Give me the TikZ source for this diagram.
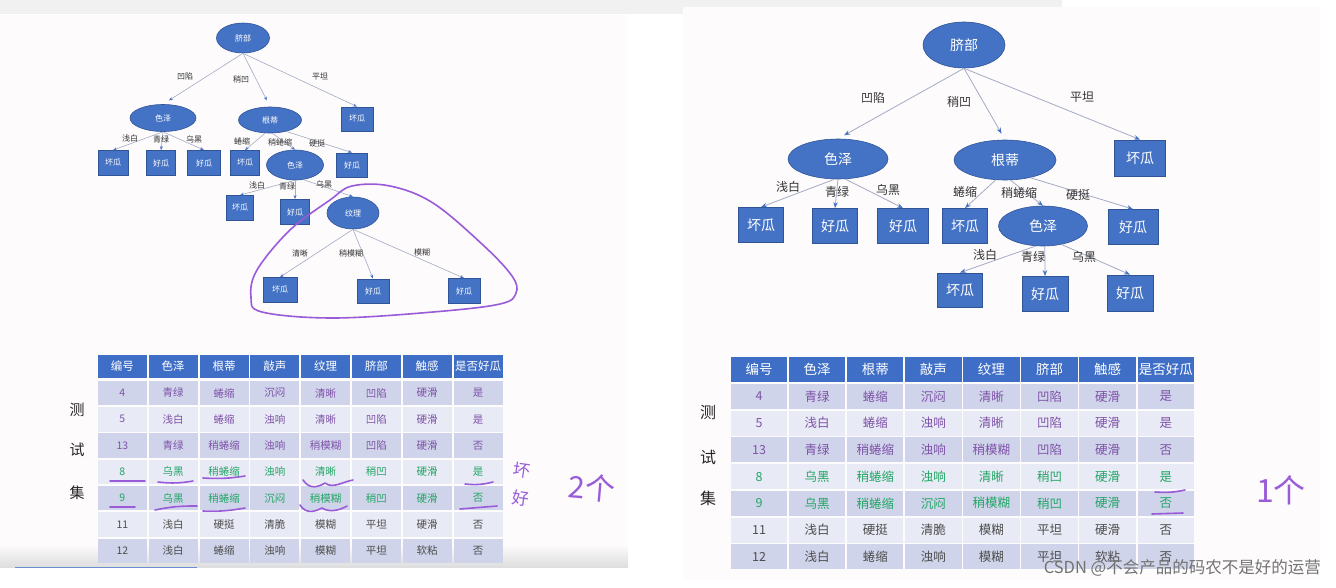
\documentclass[tikz,border=0pt]{standalone}
\usepackage{fontspec}
\setmainfont{Noto Sans CJK SC}
\usetikzlibrary{shapes.geometric,arrows.meta}
\definecolor{nodeblue}{HTML}{4472C4}
\definecolor{nodeborder}{HTML}{2F5597}
\definecolor{edgegray}{HTML}{A3ABC2}
\definecolor{hdrblue}{HTML}{3F6EC6}
\definecolor{rowdark}{HTML}{CFD4EA}
\definecolor{rowlight}{HTML}{E8EAF5}
\definecolor{tpurple}{HTML}{7E52A8}
\definecolor{tgreen}{HTML}{22A565}
\definecolor{tgray}{HTML}{4D4D4D}
\definecolor{pen}{HTML}{9A5BD8}
\definecolor{panel}{HTML}{FDFBFC}
\definecolor{strip}{HTML}{F1F1F1}
\tikzset{
  ell/.style={ellipse, fill=nodeblue, draw=nodeborder, line width=0.6pt, text=white, inner sep=0pt},
  leaf/.style={rectangle, fill=nodeblue, draw=nodeborder, line width=0.8pt, text=white, inner sep=0pt},
  sm/.style={font=\fontsize{8}{9}\selectfont},
  lg/.style={font=\fontsize{14}{15}\selectfont},
  edg/.style={draw=edgegray, line width=0.6pt, -{Stealth[length=4pt,width=3pt,color=nodeblue]}},
  redg/.style={draw=edgegray, line width=0.8pt, -{Stealth[length=6pt,width=4.5pt,color=nodeblue]}},
  elab/.style={text=black!80, inner sep=0pt},
  hdr/.style={rectangle, fill=hdrblue, text=white, inner sep=0pt},
  cell/.style={rectangle, inner sep=0pt},
  side/.style={text=black!85, inner sep=0pt},
  hand/.style={draw=pen, line width=1.6pt, line cap=round, line join=round},
  handtxt/.style={text=pen, inner sep=0pt}
}
\begin{document}
\begin{tikzpicture}[x=1pt,y=-1pt]
\useasboundingbox (0,0) rectangle (1336,587);
% backgrounds
\fill[white] (0,0) rectangle (1336,587);
\fill[strip] (0,0) rectangle (1062,14);
\fill[panel] (0,15) rectangle (628,567);
\shade[top color=panel, bottom color=black!13] (0,545) rectangle (628,567);
\draw[nodeblue!80, line width=1pt] (15,567.5) -- (197,567.5);
\fill[panel] (683,7) rectangle (1320,580);

% ================= LEFT TREE =================
\begin{scope}[sm]
\node[ell, minimum width=53, minimum height=30] (lroot) at (243,38) {脐部};
\node[ell, minimum width=66, minimum height=27] (lc1) at (163,118) {色泽};
\node[ell, minimum width=63, minimum height=26] (lc2) at (270,120) {根蒂};
\node[leaf, minimum width=32, minimum height=24] (lc3) at (357,119) {坏瓜};
\node[leaf, minimum width=30, minimum height=25] (ll1) at (113,163) {坏瓜};
\node[leaf, minimum width=29, minimum height=25] (ll2) at (161,163) {好瓜};
\node[leaf, minimum width=33, minimum height=25] (ll3) at (204,163) {好瓜};
\node[leaf, minimum width=29, minimum height=25] (ll4) at (245,163) {坏瓜};
\node[ell, minimum width=57, minimum height=30] (lc4) at (295,165) {色泽};
\node[leaf, minimum width=31, minimum height=24] (ll5) at (352,165) {好瓜};
\node[leaf, minimum width=27, minimum height=25] (ll6) at (240,208) {坏瓜};
\node[leaf, minimum width=29, minimum height=25] (ll7) at (295,212) {好瓜};
\node[ell, minimum width=52, minimum height=32] (lc5) at (353,213) {纹理};
\node[leaf, minimum width=34, minimum height=25] (ll8) at (280,290) {坏瓜};
\node[leaf, minimum width=32, minimum height=24] (ll9) at (373,291) {好瓜};
\node[leaf, minimum width=32, minimum height=25] (ll10) at (464,291) {好瓜};

\draw[edg, shorten >=7pt] (lroot.south) -- (lc1.north);
\draw[edg, shorten >=7pt] (lroot.south) -- (lc2.north);
\draw[edg] (lroot.south) -- (lc3.north);
\draw[edg] (lc1.south) -- (ll1.north);
\draw[edg] (lc1.south) -- (ll2.north);
\draw[edg] (lc1.south) -- (ll3.north);
\draw[edg] (lc2.-110) -- (ll4.north);
\draw[edg] (lc2.-80) -- (lc4.north);
\draw[edg] (lc2.-35) -- (ll5.north);
\draw[edg] (lc4.south) -- (ll6.north);
\draw[edg] (lc4.south) -- (ll7.north);
\draw[edg] (lc4.-60) -- (lc5.north);
\draw[edg] (lc5.south) -- (ll8.north);
\draw[edg] (lc5.south) -- (ll9.north);
\draw[edg] (lc5.south) -- (ll10.north);

\node[elab] (la1) at (185,76) {凹陷};
\node[elab] (la2) at (241,79) {稍凹};
\node[elab] (la3) at (320,76) {平坦};
\node[elab] (la4) at (130,138) {浅白};
\node[elab] (la5) at (161,139) {青绿};
\node[elab] (la6) at (194,139) {乌黑};
\node[elab] (la7) at (242,141) {蜷缩};
\node[elab] (la8) at (280,142) {稍蜷缩};
\node[elab] (la9) at (317,143) {硬挺};
\node[elab] (la10) at (257,185) {浅白};
\node[elab] (la11) at (287,186) {青绿};
\node[elab] (la12) at (324,184) {乌黑};
\node[elab] (la13) at (300,253) {清晰};
\node[elab] (la14) at (351,253) {稍模糊};
\node[elab] (la15) at (422,252) {模糊};
\end{scope}
% purple loop
\draw[hand] plot[smooth cycle, tension=0.6] coordinates {(352,186) (390,186) (433,203) (483,245) (512,276) (516,293) (500,304) (433,312) (333,318) (262,312) (251,297) (257,270) (290,230) (330,200)};

% ================= RIGHT TREE =================
\begin{scope}[lg]
\node[ell, minimum width=82, minimum height=46] (rroot) at (964,45) {脐部};
\node[ell, minimum width=100, minimum height=40] (rc1) at (838,159) {色泽};
\node[ell, minimum width=102, minimum height=40] (rc2) at (1005,160) {根蒂};
\node[leaf, minimum width=51, minimum height=36] (rl0) at (1140,158) {坏瓜};
\node[leaf, minimum width=45, minimum height=35] (rl1) at (761,225) {坏瓜};
\node[leaf, minimum width=45, minimum height=35] (rl2) at (835,226) {好瓜};
\node[leaf, minimum width=51, minimum height=35] (rl3) at (903,226) {好瓜};
\node[leaf, minimum width=45, minimum height=35] (rl4) at (965,226) {坏瓜};
\node[ell, minimum width=89, minimum height=40] (rc3) at (1043,226) {色泽};
\node[leaf, minimum width=50, minimum height=35] (rl5) at (1133,227) {好瓜};
\node[leaf, minimum width=45, minimum height=34] (rl6) at (960,290) {坏瓜};
\node[leaf, minimum width=46, minimum height=35] (rl7) at (1045,294) {好瓜};
\node[leaf, minimum width=46, minimum height=36] (rl8) at (1130,293) {好瓜};
\end{scope}
\draw[redg, shorten >=7pt] (rroot.south) -- (rc1.north);
\draw[redg, shorten >=7pt] (rroot.south) -- (rc2.north);
\draw[redg] (rroot.south) -- (rl0.north);
\draw[redg] (rc1.-100) -- (rl1.north);
\draw[redg] (rc1.-90) -- (rl2.north);
\draw[redg] (rc1.-70) -- (rl3.north);
\draw[redg] (rc2.-115) -- (rl4.north);
\draw[redg] (rc2.-75) -- (rc3.north);
\draw[redg] (rc2.-35) -- (rl5.north);
\draw[redg] (rc3.-110) -- (rl6.north);
\draw[redg] (rc3.-85) -- (rl7.north);
\draw[redg] (rc3.-45) -- (rl8.north);
\begin{scope}[font=\fontsize{12}{13}\selectfont]
\node[elab] (ra1) at (873,98) {凹陷};
\node[elab] (ra2) at (959,102) {稍凹};
\node[elab] (ra3) at (1082,97) {平坦};
\node[elab] (ra4) at (788,187) {浅白};
\node[elab] (ra5) at (837,192) {青绿};
\node[elab] (ra6) at (888,190) {乌黑};
\node[elab] (ra7) at (965,192) {蜷缩};
\node[elab] (ra8) at (1019,193) {稍蜷缩};
\node[elab] (ra9) at (1078,195) {硬挺};
\node[elab] (ra10) at (985,255) {浅白};
\node[elab] (ra11) at (1033,257) {青绿};
\node[elab] (ra12) at (1084,257) {乌黑};
\end{scope}

% ================= LEFT TABLE =================
\foreach \t [count=\c] in {编号,色泽,根蒂,敲声,纹理,脐部,触感,是否好瓜}{
  \pgfmathsetmacro\cx{97+50.8*(\c-0.5)}
  \node[hdr, font=\fontsize{11.5}{12}\selectfont, minimum width=49, minimum height=23] (LH\c) at (\cx,366.5) {\t};
}
\begin{scope}[font=\fontsize{10.5}{11}\selectfont]
\foreach \row/\tc/\fc [count=\r] in {
  {4,青绿,蜷缩,沉闷,清晰,凹陷,硬滑,是}/tpurple/rowdark,
  {5,浅白,蜷缩,浊响,清晰,凹陷,硬滑,是}/tpurple/rowlight,
  {13,青绿,稍蜷缩,浊响,稍模糊,凹陷,硬滑,否}/tpurple/rowdark,
  {8,乌黑,稍蜷缩,浊响,清晰,稍凹,硬滑,是}/tgreen/rowlight,
  {9,乌黑,稍蜷缩,沉闷,稍模糊,稍凹,硬滑,否}/tgreen/rowdark,
  {11,浅白,硬挺,清脆,模糊,平坦,硬滑,否}/tgray/rowlight,
  {12,浅白,蜷缩,浊响,模糊,平坦,软粘,否}/tgray/rowdark}{
  \pgfmathsetmacro\cy{393+26.3*(\r-1)}
  \foreach \t [count=\c] in \row {
    \pgfmathsetmacro\cx{97+50.8*(\c-0.5)}
    \node[cell, fill=\fc, text=\tc, minimum width=49, minimum height=24.5] (L\r-\c) at (\cx,\cy) {\t};
  }
}
\end{scope}
\node[side, font=\fontsize{15}{16}\selectfont] (ls1) at (77,410) {测};
\node[side, font=\fontsize{15}{16}\selectfont] (ls2) at (77,450) {试};
\node[side, font=\fontsize{15}{16}\selectfont] (ls3) at (77,493) {集};
% handwritten marks left
\draw[hand] (110,481) -- (145,481);
\draw[hand] (158,482) to[bend right=8] (193,481);
\draw[hand] (203,478) to[bend right=6] (245,476);
\draw[hand] (303,480) .. controls (310,490) and (318,487) .. (325,483) .. controls (333,489) and (342,482) .. (353,480);
\draw[hand] (465,484) to[bend right=10] (493,482);
\draw[hand] (110,507) -- (135,507);
\draw[hand] (155,510) to[bend left=6] (197,506);
\draw[hand] (203,511) to[bend right=6] (245,508);
\draw[hand] (300,505) .. controls (306,514) and (314,512) .. (322,508) .. controls (330,513) and (340,510) .. (347,506);
\draw[hand] (460,509) -- (497,506);
\node[handtxt, font=\fontsize{17}{18}\selectfont, rotate=-8] (hw1) at (522,470) {坏};
\node[handtxt, font=\fontsize{17}{18}\selectfont, rotate=-8] (hw2) at (521,498) {好};
\node[handtxt, font=\fontsize{30}{31}\selectfont, rotate=-5] (hw3) at (592,488) {2个};

% ================= RIGHT TABLE =================
\foreach \t [count=\c] in {编号,色泽,根蒂,敲声,纹理,脐部,触感,是否好瓜}{
  \pgfmathsetmacro\cx{730+58.1*(\c-0.5)}
  \node[hdr, font=\fontsize{13.5}{14}\selectfont, minimum width=56.4, minimum height=25] (RH\c) at (\cx,369.5) {\t};
}
\begin{scope}[font=\fontsize{12.5}{13}\selectfont]
\foreach \row/\tc/\fc [count=\r] in {
  {4,青绿,蜷缩,沉闷,清晰,凹陷,硬滑,是}/tpurple/rowdark,
  {5,浅白,蜷缩,浊响,清晰,凹陷,硬滑,是}/tpurple/rowlight,
  {13,青绿,稍蜷缩,浊响,稍模糊,凹陷,硬滑,否}/tpurple/rowdark,
  {8,乌黑,稍蜷缩,浊响,清晰,稍凹,硬滑,是}/tgreen/rowlight,
  {9,乌黑,稍蜷缩,沉闷,稍模糊,稍凹,硬滑,否}/tgreen/rowdark,
  {11,浅白,硬挺,清脆,模糊,平坦,硬滑,否}/tgray/rowlight,
  {12,浅白,蜷缩,浊响,模糊,平坦,软粘,否}/tgray/rowdark}{
  \pgfmathsetmacro\cy{396.5+26.7*(\r-1)}
  \foreach \t [count=\c] in \row {
    \pgfmathsetmacro\cx{730+58.1*(\c-0.5)}
    \node[cell, fill=\fc, text=\tc, minimum width=56.4, minimum height=25] (R\r-\c) at (\cx,\cy) {\t};
  }
}
\end{scope}
\node[side, font=\fontsize{16}{17}\selectfont] (rs1) at (708,412) {测};
\node[side, font=\fontsize{16}{17}\selectfont] (rs2) at (708,457) {试};
\node[side, font=\fontsize{16}{17}\selectfont] (rs3) at (708,498) {集};
\draw[hand] (1155,492) to[bend right=8] (1185,490);
\draw[hand] (1152,514) -- (1183,513);
\node[handtxt, font=\fontsize{32}{33}\selectfont] (hw4) at (1281,490) {1个};

% watermark
\node[text=black!55, font=\fontsize{16.5}{17}\selectfont, anchor=east, inner sep=0pt] (wm) at (1321,568) {CSDN @不会产品的码农不是好的运营};
\end{tikzpicture}
\end{document}
